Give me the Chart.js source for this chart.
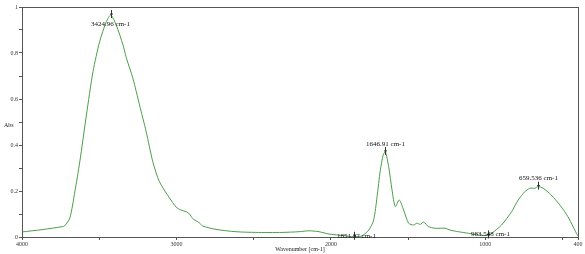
<!DOCTYPE html>
<html>
<head>
<meta charset="utf-8">
<script src="https://cdn.jsdelivr.net/npm/chart.js@4/dist/chart.umd.min.js"></script>
<style>
  html, body { margin: 0; padding: 0; background: #fff; }
  #wrap { width: 585px; height: 254px; }
</style>
</head>
<body>
<div id="wrap"><canvas id="irChart" width="585" height="254"></canvas></div>
<script>
// spectrum (wavenumber in cm-1, absorbance)
const wavenumbers = [4000, 3870, 3740, 3723, 3690, 3658, 3626, 3583, 3540, 3497, 3454, 3425, 3389, 3346, 3325,
  3282, 3239, 3196, 3153, 3110, 3045, 3002, 2970, 2937, 2915, 2895, 2852, 2830, 2744, 2615, 2486, 2316, 2206,
  2142, 2077, 2013, 1948, 1880, 1851, 1800, 1755, 1723, 1701, 1680, 1660, 1647, 1626, 1604, 1583, 1557, 1529,
  1497, 1465, 1443, 1421, 1400, 1368, 1325, 1260, 1228, 1174, 1110, 1045, 983, 959, 895, 830, 787, 744, 712,
  679, 659, 626, 574, 509, 465, 432, 410, 400];
const absorbance = [0.022, 0.032, 0.045, 0.049, 0.083, 0.196, 0.326, 0.53, 0.72, 0.85, 0.936, 0.965, 0.92, 0.835, 0.78,
  0.69, 0.574, 0.458, 0.327, 0.24, 0.17, 0.13, 0.117, 0.11, 0.1, 0.08, 0.062, 0.048, 0.033, 0.023, 0.02, 0.02, 0.023,
  0.027, 0.023, 0.013, 0.008, 0.003, 0.001, 0.005, 0.03, 0.074, 0.175, 0.29, 0.36, 0.37, 0.306, 0.204, 0.132, 0.161, 0.117,
  0.06, 0.052, 0.06, 0.055, 0.065, 0.045, 0.038, 0.038, 0.03, 0.023, 0.016, 0.009, 0.007, 0.016, 0.052, 0.11, 0.161, 0.197, 0.212,
  0.212, 0.219, 0.212, 0.183, 0.132, 0.088, 0.045, 0.016, 0.005];

// x ticks: labelled ones plus unlabelled minor ones
const xTicks = [4000, 3500, 3000, 2500, 2000, 1500, 1000, 500, 400];
const xTickLabels = ['4000', '', '3000', '', '2000', '', '1000', '', '400'];
const yTicks = [0, 0.1, 0.2, 0.3, 0.4, 0.5, 0.6, 0.7, 0.8, 0.9, 1];
const yTickLabels = ['0', '', '0.2', '', '0.4', '', '0.6', '', '0.8', '', '1'];

// peak picks
const peakX = [3424.96, 1646.91, 659.536, 1851.37, 983.548];
const peakY = [0.965, 0.37, 0.219, 0.001, 0.007];
const peakLabels = ['3424.96 cm-1', '1646.91 cm-1', '659.536 cm-1', '1851.37 cm-1', '983.548 cm-1'];
const peakBelow = [true, false, false, false, false];

const points = wavenumbers.map((w, i) => ({ x: w, y: absorbance[i] }));
const serif = '"Liberation Serif", "DejaVu Serif", serif';

const framePlugin = {
  id: 'frame',
  afterDraw(chart) {
    const { ctx, chartArea: a, scales } = chart;
    ctx.save();
    ctx.strokeStyle = '#555';
    ctx.lineWidth = 1;
    ctx.strokeRect(a.left + 0.5, a.top + 0.5, a.right - a.left, a.bottom - a.top);

    ctx.fillStyle = '#222';
    ctx.font = '6px ' + serif;
    ctx.textAlign = 'left';
    ctx.textBaseline = 'middle';
    ctx.fillText('Abs', 4, 125);
    ctx.textAlign = 'center';
    ctx.fillText('Wavenumber [cm-1]', 300, 249);

    // peak markers and labels
    ctx.font = '7px ' + serif;
    ctx.strokeStyle = '#333';
    for (let i = 0; i < peakX.length; i++) {
      const px = Math.round(scales.x.getPixelForValue(peakX[i])) + 0.5;
      const py = scales.y.getPixelForValue(peakY[i]);
      ctx.beginPath();
      ctx.moveTo(px, py - 5);
      ctx.lineTo(px, py + 3);
      ctx.moveTo(px - 1.5, py - 1);
      ctx.lineTo(px + 1.5, py - 1);
      ctx.stroke();
      ctx.fillStyle = '#111';
      if (peakBelow[i]) {
        ctx.fillText(peakLabels[i], px - 1, py + 9);
      } else if (peakY[i] < 0.05) {
        ctx.fillText(peakLabels[i], px + 2, py - 1);
      } else {
        ctx.fillText(peakLabels[i], px, py - 8);
      }
    }
    ctx.restore();
  }
};

const ctx = document.getElementById('irChart').getContext('2d');
const chart = new Chart(ctx, {
  type: 'line',
  data: {
    datasets: [{
      data: points,
      borderColor: '#4a9e48',
      borderWidth: 1,
      pointRadius: 0,
      fill: false,
      tension: 0.25
    }]
  },
  options: {
    responsive: false,
    animation: false,
    layout: { padding: { left: 0, right: 7, top: 7, bottom: 0 } },
    plugins: {
      legend: { display: false },
      tooltip: { enabled: false }
    },
    scales: {
      x: {
        type: 'linear',
        reverse: true,
        min: 400,
        max: 4000,
        afterBuildTicks: (scale) => { scale.ticks = xTicks.map(v => ({ value: v })); },
        afterFit: (scale) => { scale.height = 17; },
        grid: { drawOnChartArea: false, tickLength: 3, color: '#555' },
        border: { color: '#555' },
        ticks: {
          autoSkip: false,
          maxRotation: 0,
          padding: 1,
          color: '#333',
          font: { family: serif, size: 6 },
          callback: (v) => xTickLabels[xTicks.indexOf(v)]
        }
      },
      y: {
        min: 0,
        max: 1,
        afterBuildTicks: (scale) => { scale.ticks = yTicks.map(v => ({ value: v })); },
        afterFit: (scale) => { scale.width = 22; },
        grid: { drawOnChartArea: false, tickLength: 3, color: '#555' },
        border: { color: '#555' },
        ticks: {
          autoSkip: false,
          padding: 1,
          color: '#333',
          font: { family: serif, size: 6 },
          callback: (v) => yTickLabels[yTicks.findIndex(t => Math.abs(t - v) < 1e-6)]
        }
      }
    }
  },
  plugins: [framePlugin]
});
</script>
</body>
</html>
